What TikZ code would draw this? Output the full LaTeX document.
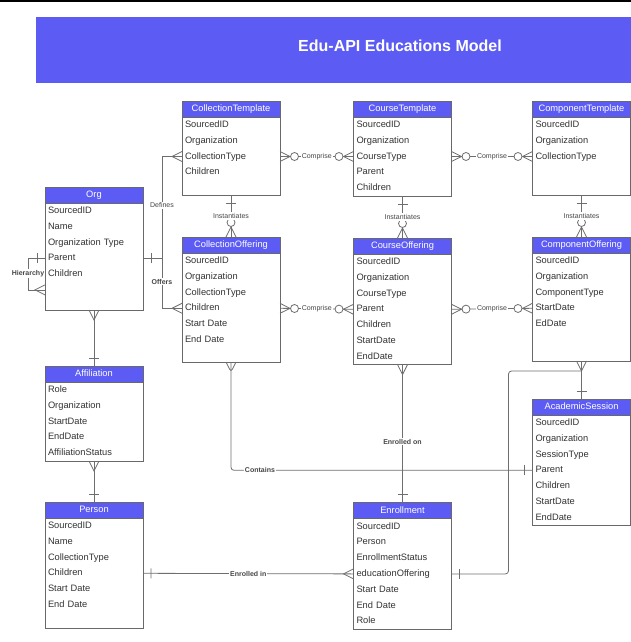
\documentclass[tikz,border=0pt]{standalone}
\usepackage{fontspec}
\setmainfont{Liberation Sans}
\usetikzlibrary{positioning,fit,decorations.markings}

\definecolor{hdrblue}{RGB}{92,92,245}
\definecolor{boxgray}{RGB}{105,105,105}
\definecolor{rowtext}{RGB}{50,50,50}
\definecolor{linkgray}{RGB}{110,110,110}
\definecolor{lbltext}{RGB}{70,70,70}

\newcommand{\cellfont}{\fontsize{9.3}{11}\selectfont}
\newcommand{\lblfont}{\fontsize{7}{8}\selectfont}

\tikzstyle{head} = [fill=hdrblue, draw=boxgray, line width=0.9pt, minimum width=98pt, minimum height=16pt, inner sep=0pt, outer sep=0pt, text height=7pt, text depth=2pt, text=white, font=\cellfont]
\tikzstyle{row} = [minimum height=15.8pt, text width=92pt, inner xsep=3pt, inner ysep=0pt, outer sep=0pt, text height=7pt, text depth=2pt, align=left, text=rowtext, font=\cellfont]
\tikzstyle{box} = [draw=boxgray, line width=0.9pt, inner sep=0pt, outer sep=0pt]
\tikzstyle{link} = [draw=linkgray, line width=0.8pt]
\tikzstyle{lbl} = [fill=white, inner sep=1pt, text=lbltext, font=\lblfont]
\tikzstyle{blbl} = [lbl, font=\lblfont\bfseries]
\tikzstyle{one start} = [postaction={decorate, decoration={markings, mark=at position 8pt with {\draw[link] (0,-5pt) -- (0,5pt);}}}]
\tikzstyle{one end} = [postaction={decorate, decoration={markings, mark=at position -8pt with {\draw[link] (0,-5pt) -- (0,5pt);}}}]
\tikzstyle{many start} = [postaction={decorate, decoration={markings, mark=at position 10pt with {\draw[link] (-10pt,5pt) -- (0,0) -- (-10pt,-5pt);}}}]
\tikzstyle{many end} = [postaction={decorate, decoration={markings, mark=at position -10pt with {\draw[link] (10pt,5pt) -- (0,0) -- (10pt,-5pt);}}}]
\tikzstyle{zmany start} = [postaction={decorate, decoration={markings, mark=at position 10pt with {\draw[link] (-10pt,5pt) -- (0,0) -- (-10pt,-5pt); \draw[link, fill=white] (4.5pt,0) circle (4pt);}}}]
\tikzstyle{zmany end} = [postaction={decorate, decoration={markings, mark=at position -10pt with {\draw[link] (10pt,5pt) -- (0,0) -- (10pt,-5pt); \draw[link, fill=white] (-4.5pt,0) circle (4pt);}}}]

\begin{document}
\begin{tikzpicture}[x=1pt, y=-1pt]
    \useasboundingbox (0,0) rectangle (631,642);
    \fill (0,0) rectangle (631,2.5);

    \node (band) [fill=hdrblue, minimum width=595pt, minimum height=66pt, inner sep=0pt] at (333.5,50) {};
    \node (title) [text=white, font=\fontsize{16}{19}\selectfont\bfseries] at (400,46) {Edu-API Educations Model};

    \node (ct-h) [head] at (231,109) {CollectionTemplate};
    \node (ct-1) [row, below=0pt of ct-h] {SourcedID};
    \node (ct-2) [row, below=0pt of ct-1] {Organization};
    \node (ct-3) [row, below=0pt of ct-2] {CollectionType};
    \node (ct-4) [row, below=0pt of ct-3] {Children};
    \node (ct-5) [row, below=0pt of ct-4, minimum height=14.8pt] {};
    \node (ct) [box, fit=(ct-h)(ct-5)] {};

    \node (crt-h) [head] at (402.5,109) {CourseTemplate};
    \node (crt-1) [row, below=0pt of crt-h] {SourcedID};
    \node (crt-2) [row, below=0pt of crt-1] {Organization};
    \node (crt-3) [row, below=0pt of crt-2] {CourseType};
    \node (crt-4) [row, below=0pt of crt-3] {Parent};
    \node (crt-5) [row, below=0pt of crt-4] {Children};
    \node (crt) [box, fit=(crt-h)(crt-5)] {};

    \node (cpt-h) [head] at (581.5,109) {ComponentTemplate};
    \node (cpt-1) [row, below=0pt of cpt-h] {SourcedID};
    \node (cpt-2) [row, below=0pt of cpt-1] {Organization};
    \node (cpt-3) [row, below=0pt of cpt-2] {CollectionType};
    \node (cpt-4) [row, below=0pt of cpt-3, minimum height=30.6pt] {};
    \node (cpt) [box, fit=(cpt-h)(cpt-4)] {};

    \node (org-h) [head] at (94,195) {Org};
    \node (org-1) [row, below=0pt of org-h] {SourcedID};
    \node (org-2) [row, below=0pt of org-1] {Name};
    \node (org-3) [row, below=0pt of org-2] {Organization Type};
    \node (org-4) [row, below=0pt of org-3] {Parent};
    \node (org-5) [row, below=0pt of org-4] {Children};
    \node (org-6) [row, below=0pt of org-5] {};
    \node (org-7) [row, below=0pt of org-6, minimum height=12.2pt] {};
    \node (org) [box, fit=(org-h)(org-7)] {};

    \node (co-h) [head, below=42pt of ct] {CollectionOffering};
    \node (co-1) [row, below=0pt of co-h] {SourcedID};
    \node (co-2) [row, below=0pt of co-1] {Organization};
    \node (co-3) [row, below=0pt of co-2] {CollectionType};
    \node (co-4) [row, below=0pt of co-3] {Children};
    \node (co-5) [row, below=0pt of co-4] {Start Date};
    \node (co-6) [row, below=0pt of co-5] {End Date};
    \node (co-7) [row, below=0pt of co-6, minimum height=14.2pt] {};
    \node (co) [box, fit=(co-h)(co-7)] {};

    \node (cro-h) [head, below=42pt of crt] {CourseOffering};
    \node (cro-1) [row, below=0pt of cro-h] {SourcedID};
    \node (cro-2) [row, below=0pt of cro-1] {Organization};
    \node (cro-3) [row, below=0pt of cro-2] {CourseType};
    \node (cro-4) [row, below=0pt of cro-3] {Parent};
    \node (cro-5) [row, below=0pt of cro-4] {Children};
    \node (cro-6) [row, below=0pt of cro-5] {StartDate};
    \node (cro-7) [row, below=0pt of cro-6] {EndDate};
    \node (cro) [box, fit=(cro-h)(cro-7)] {};

    \node (cpo-h) [head, below=42pt of cpt] {ComponentOffering};
    \node (cpo-1) [row, below=0pt of cpo-h] {SourcedID};
    \node (cpo-2) [row, below=0pt of cpo-1] {Organization};
    \node (cpo-3) [row, below=0pt of cpo-2] {ComponentType};
    \node (cpo-4) [row, below=0pt of cpo-3] {StartDate};
    \node (cpo-5) [row, below=0pt of cpo-4] {EdDate};
    \node (cpo-6) [row, below=0pt of cpo-5, minimum height=29pt] {};
    \node (cpo) [box, fit=(cpo-h)(cpo-6)] {};

    \node (aff-h) [head, below=56pt of org] {Affiliation};
    \node (aff-1) [row, below=0pt of aff-h] {Role};
    \node (aff-2) [row, below=0pt of aff-1] {Organization};
    \node (aff-3) [row, below=0pt of aff-2] {StartDate};
    \node (aff-4) [row, below=0pt of aff-3] {EndDate};
    \node (aff-5) [row, below=0pt of aff-4] {AffiliationStatus};
    \node (aff) [box, fit=(aff-h)(aff-5)] {};

    \node (as-h) [head, below=38pt of cpo] {AcademicSession};
    \node (as-1) [row, below=0pt of as-h] {SourcedID};
    \node (as-2) [row, below=0pt of as-1] {Organization};
    \node (as-3) [row, below=0pt of as-2] {SessionType};
    \node (as-4) [row, below=0pt of as-3] {Parent};
    \node (as-5) [row, below=0pt of as-4] {Children};
    \node (as-6) [row, below=0pt of as-5] {StartDate};
    \node (as-7) [row, below=0pt of as-6] {EndDate};
    \node (as) [box, fit=(as-h)(as-7)] {};

    \node (per-h) [head, below=41pt of aff] {Person};
    \node (per-1) [row, below=0pt of per-h] {SourcedID};
    \node (per-2) [row, below=0pt of per-1] {Name};
    \node (per-3) [row, below=0pt of per-2] {CollectionType};
    \node (per-4) [row, below=0pt of per-3] {Children};
    \node (per-5) [row, below=0pt of per-4] {Start Date};
    \node (per-6) [row, below=0pt of per-5] {End Date};
    \node (per-7) [row, below=0pt of per-6, minimum height=15.2pt] {};
    \node (per) [box, fit=(per-h)(per-7)] {};

    \node (enr-h) [head, below=138pt of cro] {Enrollment};
    \node (enr-1) [row, below=0pt of enr-h] {SourcedID};
    \node (enr-2) [row, below=0pt of enr-1] {Person};
    \node (enr-3) [row, below=0pt of enr-2] {EnrollmentStatus};
    \node (enr-4) [row, below=0pt of enr-3] {educationOffering};
    \node (enr-5) [row, below=0pt of enr-4] {Start Date};
    \node (enr-6) [row, below=0pt of enr-5] {End Date};
    \node (enr-7) [row, below=0pt of enr-6] {Role};
    \node (enr) [box, fit=(enr-h)(enr-7)] {};

    \draw [link, one start, many end] (org-4.east) -- ++(19,0) |- node [lbl, pos=0.26] {Defines} (ct-3.west);
    \draw [link, many end] (org-4.east) -- ++(19,0) |- node [blbl, pos=0.235] {Offers} (co-4.west);
    \draw [link, one start, many end] (org-4.west) -- ++(-17,0) |- node [blbl, pos=0.24] {Hierarchy} (org-6.west);

    \draw [link, zmany start, zmany end] (ct-3.east) -- node [lbl] {Comprise} (crt-3.west);
    \draw [link, zmany start, zmany end] (crt-3.east) -- node [lbl] {Comprise} (cpt-3.west);
    \draw [link, zmany start, zmany end] (co-4.east) -- node [lbl] {Comprise} (cro-4.west);
    \draw [link, zmany start, zmany end] (cro-4.east) -- node [lbl] {Comprise} (cpo-4.west);

    \draw [link, one start, zmany end] (ct.south) -- node [lbl] {Instantiates} (co.north);
    \draw [link, one start, zmany end] (crt.south) -- node [lbl] {Instantiates} (cro.north);
    \draw [link, one start, zmany end] (cpt.south) -- node [lbl] {Instantiates} (cpo.north);

    \draw [link, many start, one end] (org.south) -- (aff.north);
    \draw [link, many start, one end] (aff.south) -- (per.north);

    \draw [link, many start, one end, rounded corners=3pt] (co.south) |- node [blbl, pos=0.548] {Contains} (as-4.west);
    \draw [link, many start, one end] (cro.south) -- node [blbl, pos=0.56] {Enrolled on} (enr.north);
    \draw [link, many start, one end] (cpo.south) -- (as.north);
    \draw [link, one start, rounded corners=3pt] (enr-4.east) -- ++(57,0) |- ([yshift=-10pt]cpo.south);
    \draw [link, one start, many end] (per-4.east) -- node [blbl] {Enrolled in} (enr-4.west);

  \end{tikzpicture}
\end{document}
